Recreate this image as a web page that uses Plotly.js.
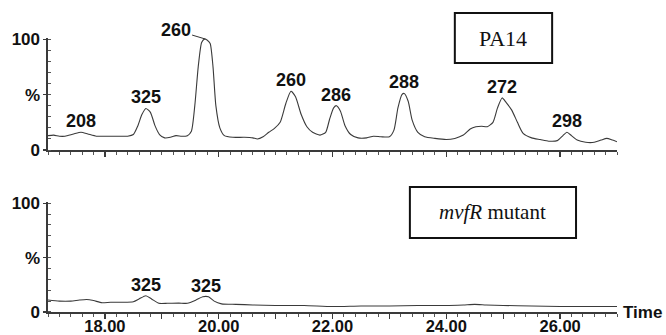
<!DOCTYPE html>
<html>
<head>
<meta charset="utf-8">
<script src="https://cdn.plot.ly/plotly-3.0.1.min.js"></script>
<style>html,body{margin:0;padding:0;background:#fff;}#chart{width:666px;height:335px;}</style>
</head>
<body>
<div id="chart"></div>
<script>
// Top panel (PA14) chromatogram: retention time (min) and relative intensity (%)
const topTime = [17.00,17.10,17.20,17.30,17.45,17.58,17.70,17.85,18.00,18.20,18.40,18.50,18.58,18.65,18.72,18.80,18.88,18.96,19.05,19.15,19.25,19.35,19.45,19.52,19.58,19.64,19.70,19.75,19.80,19.85,19.90,19.95,20.02,20.10,20.25,20.45,20.60,20.68,20.78,20.88,20.98,21.08,21.18,21.27,21.35,21.45,21.55,21.65,21.78,21.88,21.95,22.02,22.07,22.14,22.22,22.32,22.45,22.60,22.72,22.85,23.00,23.08,23.15,23.22,23.26,23.33,23.40,23.50,23.62,23.80,24.00,24.15,24.30,24.42,24.52,24.62,24.72,24.82,24.90,24.98,25.05,25.15,25.25,25.35,25.50,25.65,25.80,25.95,26.05,26.12,26.20,26.30,26.45,26.60,26.72,26.82,26.92,27.00];
const topInt  = [13,13.5,12.5,12.5,14.5,16,14.5,12.5,12.5,12.5,12.5,14,22,32,37.5,34,22,14,11,11.5,13,12.5,13,17,40,75,97,100,99,96,75,40,20,13,11.5,11.5,11,10,12,16,19.5,25,42,53,48,32,21,16,13.5,16,28,38,40,35,22,14,11,11,12.5,12,12,18,38,50,51,44,27,16,12,10.5,9.5,10.5,13.5,19,21,21.5,21,25,38,47,43,36,25,15,11,9.5,8,8.5,13,16,13,9,7,7,9,10.5,9,7.5];

// Bottom panel (mvfR mutant)
const botTime = [17.00,17.20,17.40,17.55,17.68,17.80,17.95,18.10,18.30,18.50,18.60,18.72,18.82,18.95,19.10,19.30,19.45,19.60,19.72,19.82,19.92,20.05,20.30,20.60,21.00,21.50,22.00,22.50,23.00,23.50,24.00,24.30,24.50,24.70,25.00,25.50,26.00,26.50,27.00];
const botInt  = [11,10,10,11,11.5,10.5,8.5,9,9,9.5,12,15,12,8,8,8.2,8,11,14,14,10,7.5,7,6.5,6,6,5,5.5,5.5,6,6,6.5,7,6.5,6,5.5,5,5,5];

// Peak labels (m/z)
const topLabels = ['208','325','260','260','286','288','272','298'];
const topPeakTime = [17.58,18.72,19.77,21.27,22.07,23.26,24.98,26.12];
const topPeakInt  = [16,37.5,100,53,40,51,47,16];
const botLabels = ['325','325'];
const botPeakTime = [18.72,19.78];
const botPeakInt  = [15,14];

// Axis ticks
const xTickVals = [18,19,20,21,22,23,24,25,26];
const xTickText = ['18.00','','20.00','','22.00','','24.00','','26.00'];
const yTickVals = [0,50,100];
const yTickText = ['0','%','100'];
const panelNames = ['PA14','<i>mvfR</i> mutant'];

const lineColor = '#3a3a3a';
const axisColor = '#3a3a3a';
const boldFont = {family:'"Liberation Sans", Arial, sans-serif', size:17, color:'#111', weight:'bold'};
const xTickFont = {family:'"Liberation Sans", Arial, sans-serif', size:16.5, color:'#111', weight:'bold'};
const labelFont = {family:'"Liberation Sans", Arial, sans-serif', size:18, color:'#111', weight:'bold'};

const traces = [
  {x: topTime, y: topInt, xaxis:'x', yaxis:'y', mode:'lines', line:{color:lineColor, width:1.1, shape:'spline', smoothing:0.6}, hoverinfo:'skip'},
  {x: botTime, y: botInt, xaxis:'x2', yaxis:'y2', mode:'lines', line:{color:lineColor, width:1.1, shape:'spline', smoothing:0.6}, hoverinfo:'skip'}
];

function xAxis(labels, anchor){
  return {
    range:[17,27], anchor:anchor, showgrid:false, zeroline:false,
    showline:true, linecolor:axisColor, linewidth:1.6,
    tickmode:'array', tickvals:xTickVals, ticktext:xTickText,
    ticks:'outside', ticklen:5, tickwidth:1.2, tickcolor:axisColor,
    showticklabels:labels, tickfont:xTickFont, ticklabelstandoff:-6,
    minor:{dtick:0.2, tick0:17, ticks:'outside', ticklen:3, tickwidth:1, tickcolor:'#555'}
  };
}
function yAxis(domain, anchor){
  return {
    range:[0,101], domain:domain, anchor:anchor, showgrid:false, zeroline:false,
    showline:true, linecolor:axisColor, linewidth:1.6,
    tickmode:'array', tickvals:yTickVals, ticktext:yTickText,
    ticks:'outside', ticklen:3, tickwidth:1.2, tickcolor:axisColor,
    tickfont:boldFont,
    minor:{dtick:10, tick0:0, ticks:'inside', ticklen:3, tickwidth:1, tickcolor:'#555'}
  };
}

const annotations = [];
topLabels.forEach((t,i)=>{
  if (i === 2) {
    annotations.push({xref:'x', yref:'y', x:topPeakTime[i], y:topPeakInt[i], text:'<b>'+t+'</b>',
      showarrow:true, arrowhead:0, arrowwidth:1, arrowcolor:'#333', ax:-30, ay:-9, standoff:0,
      font:labelFont});
  } else {
    annotations.push({xref:'x', yref:'y', x:topPeakTime[i], y:topPeakInt[i], text:'<b>'+t+'</b>',
      showarrow:false, xanchor:'center', yanchor:'middle', yshift:11, font:labelFont});
  }
});
botLabels.forEach((t,i)=>{
  annotations.push({xref:'x2', yref:'y2', x:botPeakTime[i], y:botPeakInt[i], text:'<b>'+t+'</b>',
    showarrow:false, xanchor:'center', yanchor:'middle', yshift:11, font:labelFont});
});
annotations.push({xref:'paper', yref:'paper', x:0.800, y:1.0, xanchor:'center', yanchor:'middle', text:panelNames[0], showarrow:false,
  font:{family:'"Liberation Serif", "Times New Roman", serif', size:22, color:'#111'}});
annotations.push({xref:'paper', yref:'paper', x:0.782, y:0.365, xanchor:'center', yanchor:'middle', text:panelNames[1], showarrow:false,
  font:{family:'"Liberation Serif", "Times New Roman", serif', size:21, color:'#111'}});
annotations.push({xref:'paper', yref:'paper', x:1.0, y:0, xanchor:'left', yanchor:'middle', xshift:4,
  text:'<b>Time</b>', showarrow:false, font:boldFont});

const shapes = [
  {type:'rect', xref:'paper', yref:'paper', x0:0.715, x1:0.886, y0:0.909, y1:1.091, line:{color:'#111', width:2}},
  {type:'rect', xref:'paper', yref:'paper', x0:0.636, x1:0.928, y0:0.270, y1:0.456, line:{color:'#111', width:2}}
];

const layout = {
  width:666, height:335,
  margin:{l:48, r:49, t:38, b:23},
  paper_bgcolor:'#fff', plot_bgcolor:'#fff',
  showlegend:false,
  xaxis: xAxis(false, 'y'),
  yaxis: yAxis([0.591,1], 'x'),
  xaxis2: xAxis(true, 'y2'),
  yaxis2: yAxis([0,0.401], 'x2'),
  annotations: annotations,
  shapes: shapes
};

Plotly.newPlot('chart', traces, layout, {displayModeBar:false, staticPlot:true});
</script>
</body>
</html>
